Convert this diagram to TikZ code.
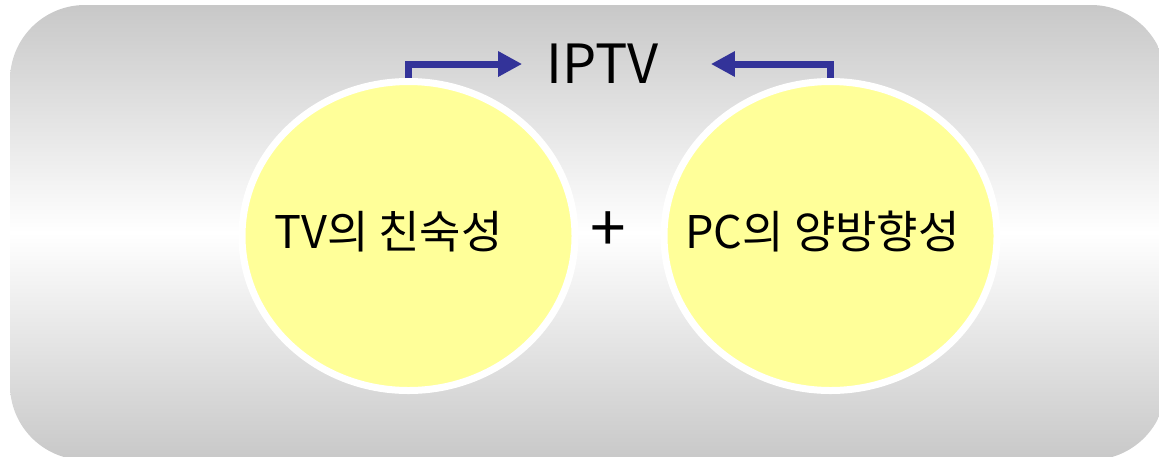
\documentclass[tikz,border=0pt]{standalone}
\usepackage{fontspec}
\setmainfont{Noto Sans CJK KR}
\usetikzlibrary{arrows.meta,positioning,shapes.geometric}

\definecolor{bggray}{RGB}{200,200,200}
\definecolor{softyellow}{RGB}{255,255,153}
\definecolor{arrowblue}{RGB}{51,51,153}

\tikzset{
  bubble/.style={ellipse, draw=white, line width=3.5pt, fill=softyellow,
    inner sep=0pt, minimum width=166.5pt, minimum height=154.5pt},
  flow/.style={draw=arrowblue, line width=3.5pt, -{Triangle[length=12pt,width=12pt]}},
  caption/.style={font=\fontsize{22.5}{26}\selectfont, inner sep=0pt},
}

\begin{document}
\begin{tikzpicture}[x=0.5pt,y=-0.5pt]
    \useasboundingbox (0,0) rectangle (1159,456);

    % Background panel
    \shade[rounded corners=37.5pt, top color=bggray, bottom color=bggray, middle color=white]
        (10,5) rectangle (1166,460);

    % Two bubbles
    \node[bubble] (tv) at (408.5,236) {};
    \node[bubble] (pc) at (830.5,236) {};

    % Captions
    \node[caption] (tvtext) at ([xshift=-10pt,yshift=2pt]tv.center) {TV의 친숙성};
    \node[caption] (pctext) at ([xshift=-4pt,yshift=2pt]pc.center) {PC의 양방향성};
    \node[caption, font=\fontsize{32}{36}\selectfont] (plus) at (608,232) {+};

    % Result on top
    \node[font=\fontsize{27}{32}\selectfont, inner sep=0pt] (iptv) at (602.5,64) {IPTV};

    % Arrows into IPTV
    \draw[flow] (tv.north) |- ([xshift=-12pt]iptv.west);
    \draw[flow] (pc.north) |- ([xshift=26pt]iptv.east);

\end{tikzpicture}
\end{document}
